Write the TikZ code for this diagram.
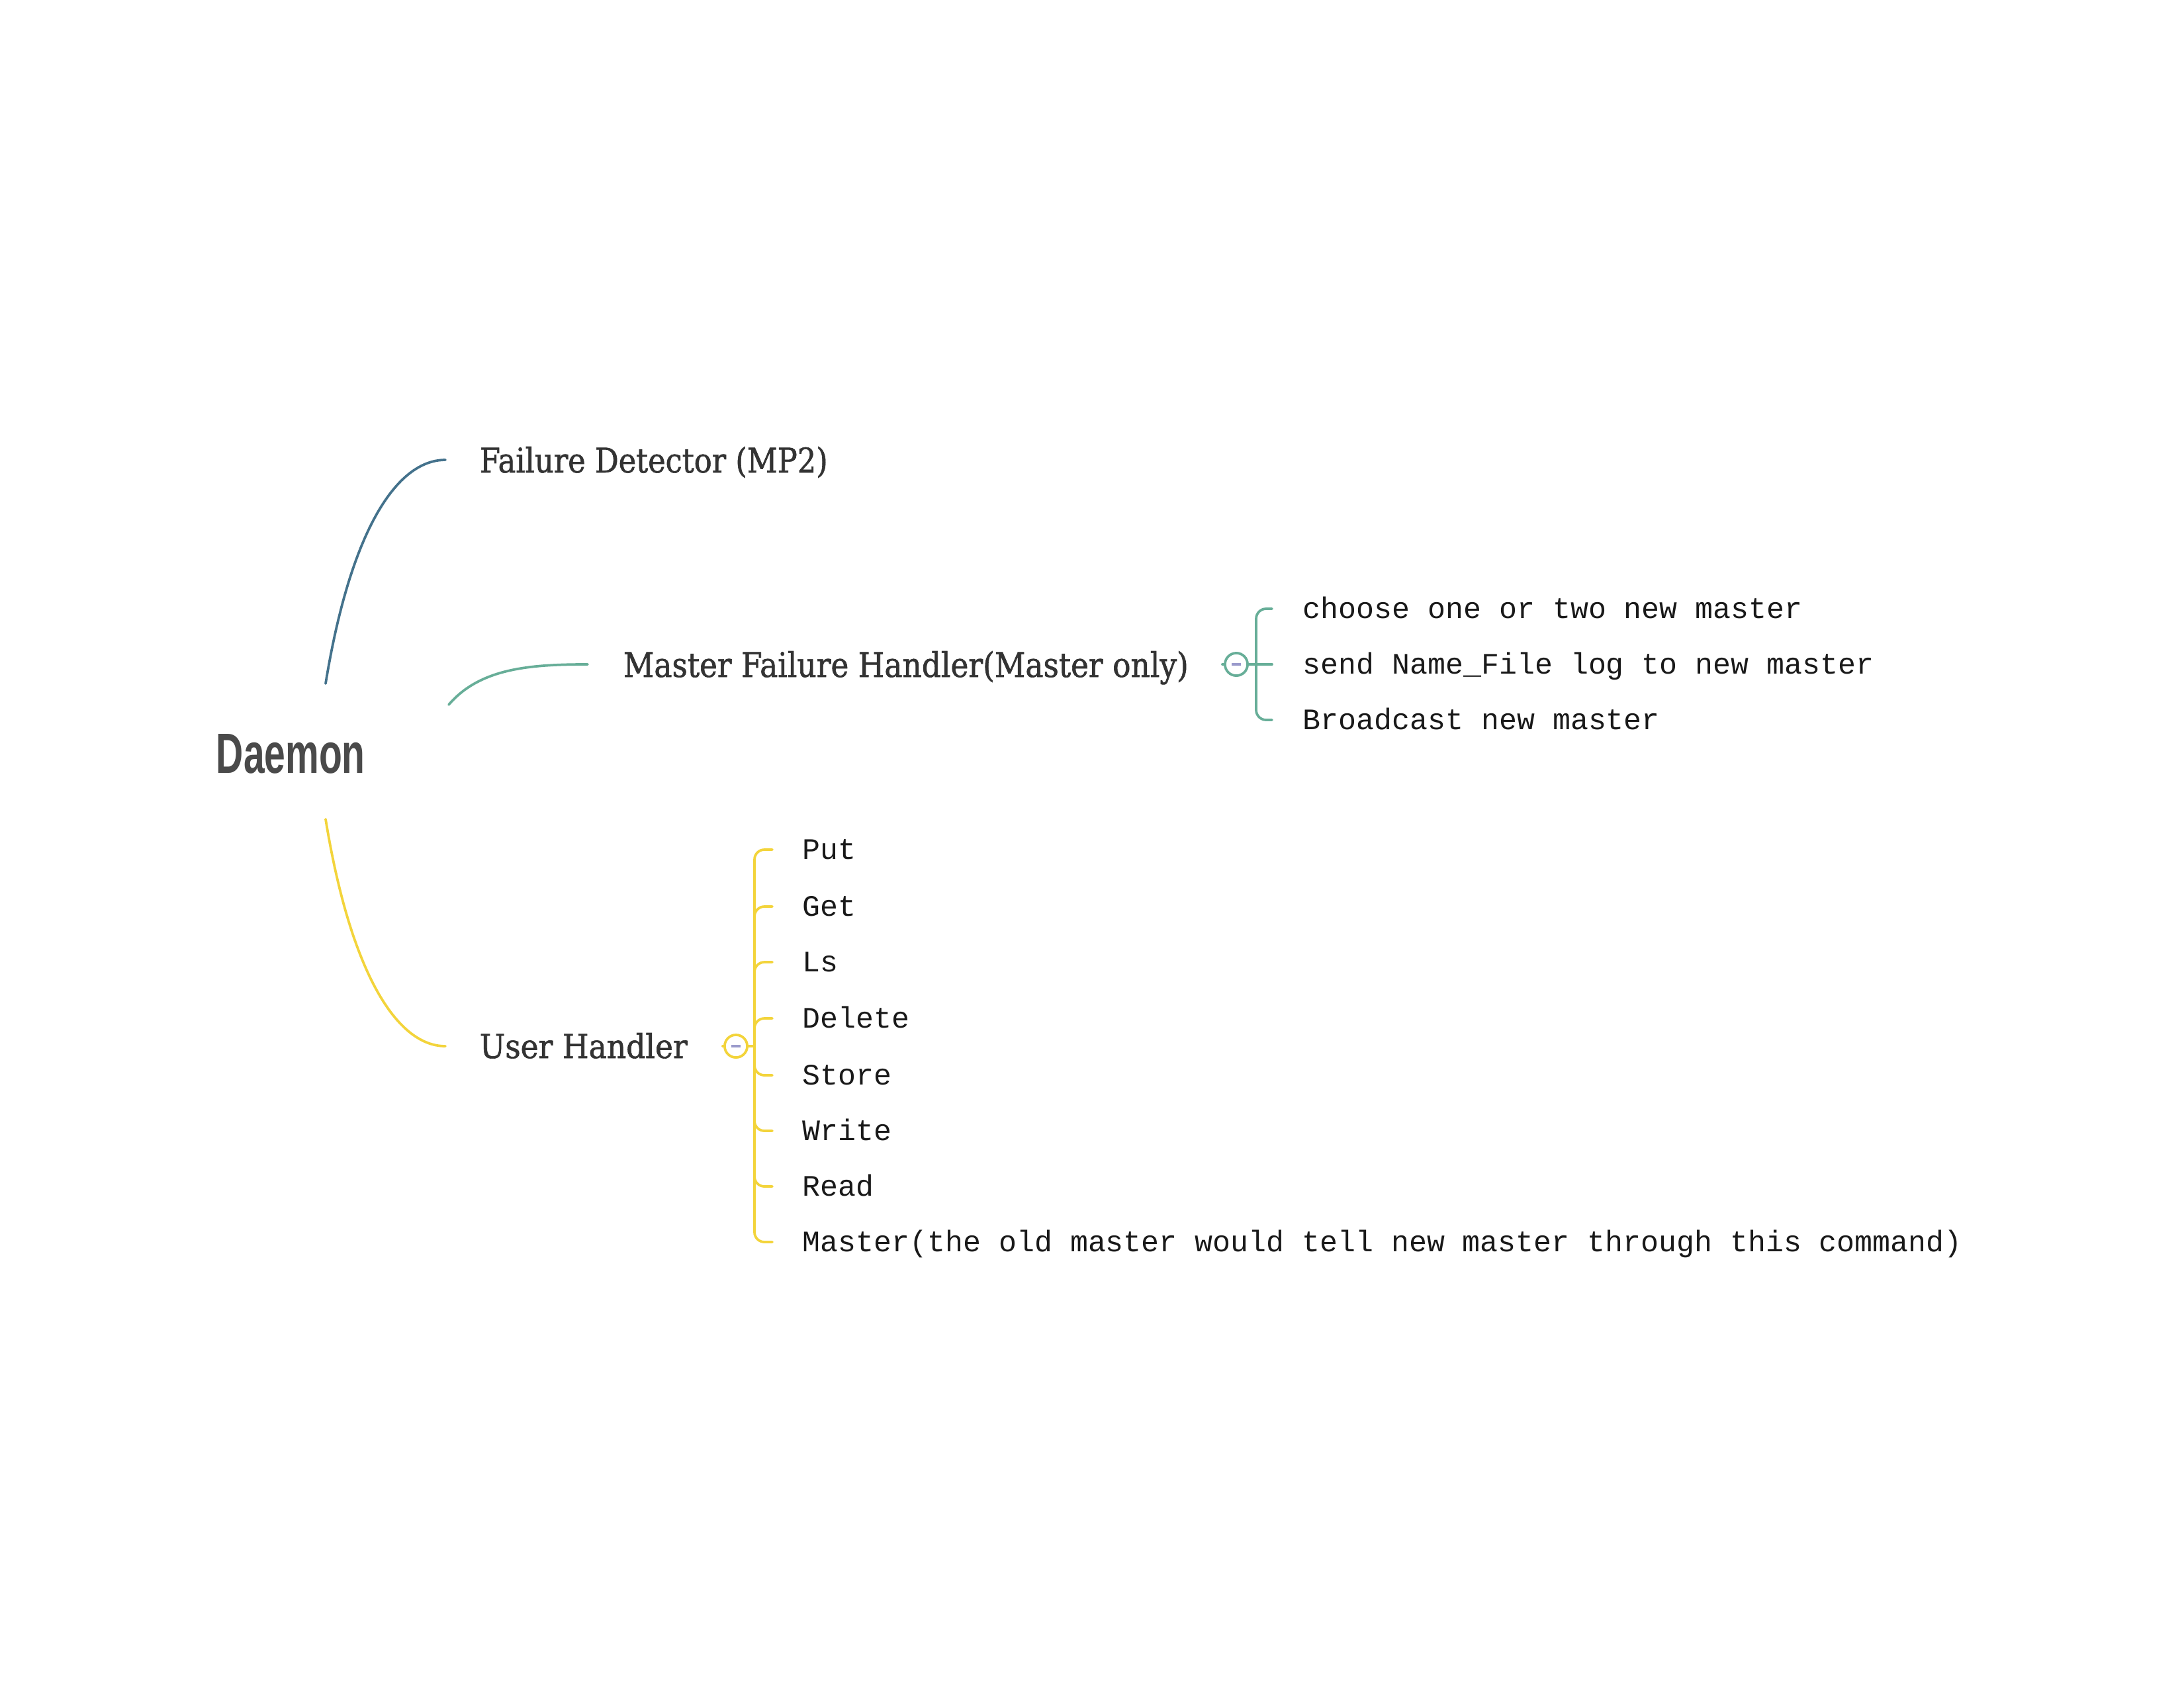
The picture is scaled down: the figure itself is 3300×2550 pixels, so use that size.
\documentclass[tikz,border=0pt]{standalone}
\usepackage{fontspec}
\setmainfont{DejaVu Serif Condensed}
\newfontfamily\lblf{DejaVu Serif Condensed}[FakeBold=1.2]
\newfontfamily\monof{Liberation Mono}
\newfontfamily\daemonf{Liberation Sans}
\newlength\px \setlength\px{0.24pt}
\definecolor{blueline}{HTML}{44728C}
\definecolor{greenline}{HTML}{67AE98}
\definecolor{yellowline}{HTML}{F3D43B}
\definecolor{txt}{HTML}{333333}
\definecolor{daemoncol}{HTML}{4A4A4A}
\definecolor{minuscol}{HTML}{9A9ACB}
\tikzset{
  lbl/.style={anchor=base west, inner sep=0pt, text=txt, font=\lblf},
  item/.style={anchor=base west, inner sep=0pt, text=black!90, font=\monof\fontsize{10.78pt}{12pt}\selectfont},
  conn/.style={line width=0.9pt, line cap=round},
  tog/.style={circle, draw, line width=0.9pt, fill=white, minimum size=8.2pt, inner sep=0pt},
}
\newcommand{\minussign}{\textcolor{minuscol}{\rule[0.05pt]{3.2pt}{0.8pt}}}
\begin{document}
\begin{tikzpicture}[x=0.24pt,y=-0.24pt]
\useasboundingbox[fill=white] (0,0) rectangle (3300,2550);

% main nodes
\node[anchor=base west, inner sep=0pt, text=daemoncol] (daemon) at (326,1168)
  {\resizebox{225\px}{59\px}{\daemonf\bfseries Daemon}};
\node[lbl] (fd) at (724,714) {\resizebox{526\px}{39\px}{Failure Detector (MP2)}};
\node[lbl] (mfh) at (941,1023) {\resizebox{854\px}{39\px}{Master Failure Handler(Master only)}};
\node[lbl] (uh) at (724,1599) {\resizebox{314\px}{38\px}{User Handler}};

% curve endpoints
\coordinate (dtop) at (492,1033);
\coordinate (dmid) at (678,1065);
\coordinate (dbot) at (492,1238);
\coordinate (fdin) at (673,695);
\coordinate (mfhin) at (888,1004);
\coordinate (uhin) at (673,1581);

\draw[conn, blueline] (dtop) .. controls (530,800) and (600,695) .. (fdin);
\draw[conn, greenline] (dmid) .. controls (725,1010) and (800,1004) .. (mfhin);
\draw[conn, yellowline] (dbot) .. controls (530,1471) and (600,1581) .. (uhin);

% green group
\node[tog, draw=greenline] (gt) at (1868,1004) {\minussign};
\coordinate (gstub) at (1847,1004);
\draw[conn, greenline] (gstub) -- (gt.west);
\foreach \y/\name/\t in {920/g1/{choose one or two new master},
                         1004/g2/{send Name\_File log to new master},
                         1088/g3/{Broadcast new master}}{
  \node[item] (\name) at (1968,\y+14) {\t};
  \coordinate (\name t) at (1922,\y);
}
\draw[conn, greenline, rounded corners=3.6pt] (g1t) -- (1898,920) -- (1898,1088) -- (g3t);
\draw[conn, greenline] (gt.east) -- (g2t);

% yellow group
\node[tog, draw=yellowline] (yt) at (1112,1581) {\minussign};
\coordinate (ystub) at (1092,1581);
\coordinate (ybar) at (1140,1581);
\draw[conn, yellowline] (ystub) -- (yt.west);
\draw[conn, yellowline] (yt.east) -- (ybar);
\foreach \y/\name/\t in {1284/y1/Put, 1370/y2/Get, 1454/y3/Ls, 1539/y4/Delete,
                         1625/y5/Store, 1709/y6/Write, 1793/y7/Read,
                         1877/y8/{Master(the old master would tell new master through this command)}}{
  \node[item] (\name) at (1212,\y+14) {\t};
  \coordinate (\name t) at (1167,\y);
  \draw[conn, yellowline, rounded corners=3.6pt] (ybar) |- (\name t);
}
\end{tikzpicture}
\end{document}
